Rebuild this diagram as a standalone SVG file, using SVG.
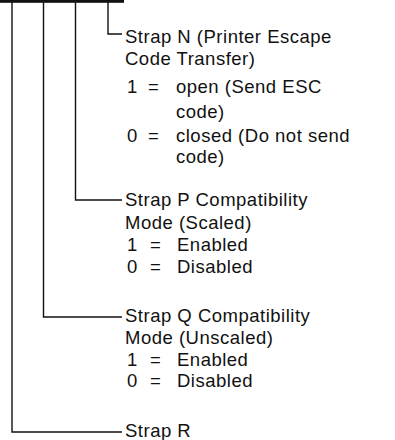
<svg xmlns="http://www.w3.org/2000/svg" width="395" height="440" viewBox="0 0 395 440">
<style>
text{font-family:"Liberation Sans",Arial,Helvetica,sans-serif;font-size:18.5px;letter-spacing:0.5px;fill:#111}
.w{stroke:#111;stroke-width:1.4;fill:none}
</style>
<rect width="395" height="440" fill="#fff"/>
<g id="connectors">
<rect x="0" y="0" width="124" height="2.8" fill="#111"/>
<path class="w" d="M108,2 V34 H122"/>
<path class="w" d="M75.5,2 V200 H122"/>
<path class="w" d="M43.5,2 V317 H122"/>
<path class="w" d="M12,2 V432 H122"/>
</g>
<g id="strap-n">
<text x="125" y="43">Strap N (Printer Escape</text>
<text x="125" y="65">Code Transfer)</text>
<text x="127" y="93">1</text><text x="148" y="93">=</text><text x="176" y="93">open (Send ESC</text>
<text x="176" y="118">code)</text>
<text x="127" y="142">0</text><text x="148" y="142">=</text><text x="176" y="142">closed (Do not send</text>
<text x="176" y="163">code)</text>
</g>
<g id="strap-p">
<text x="125" y="206">Strap P Compatibility</text>
<text x="125" y="229">Mode (Scaled)</text>
<text x="127" y="251">1</text><text x="150" y="251">=</text><text x="177" y="251">Enabled</text>
<text x="127" y="273">0</text><text x="150" y="273">=</text><text x="177" y="273">Disabled</text>
</g>
<g id="strap-q">
<text x="125" y="322">Strap Q Compatibility</text>
<text x="125" y="344">Mode (Unscaled)</text>
<text x="127" y="366">1</text><text x="150" y="366">=</text><text x="177" y="366">Enabled</text>
<text x="127" y="387">0</text><text x="150" y="387">=</text><text x="177" y="387">Disabled</text>
</g>
<g id="strap-r">
<text x="125" y="437">Strap R</text>
</g>
</svg>
